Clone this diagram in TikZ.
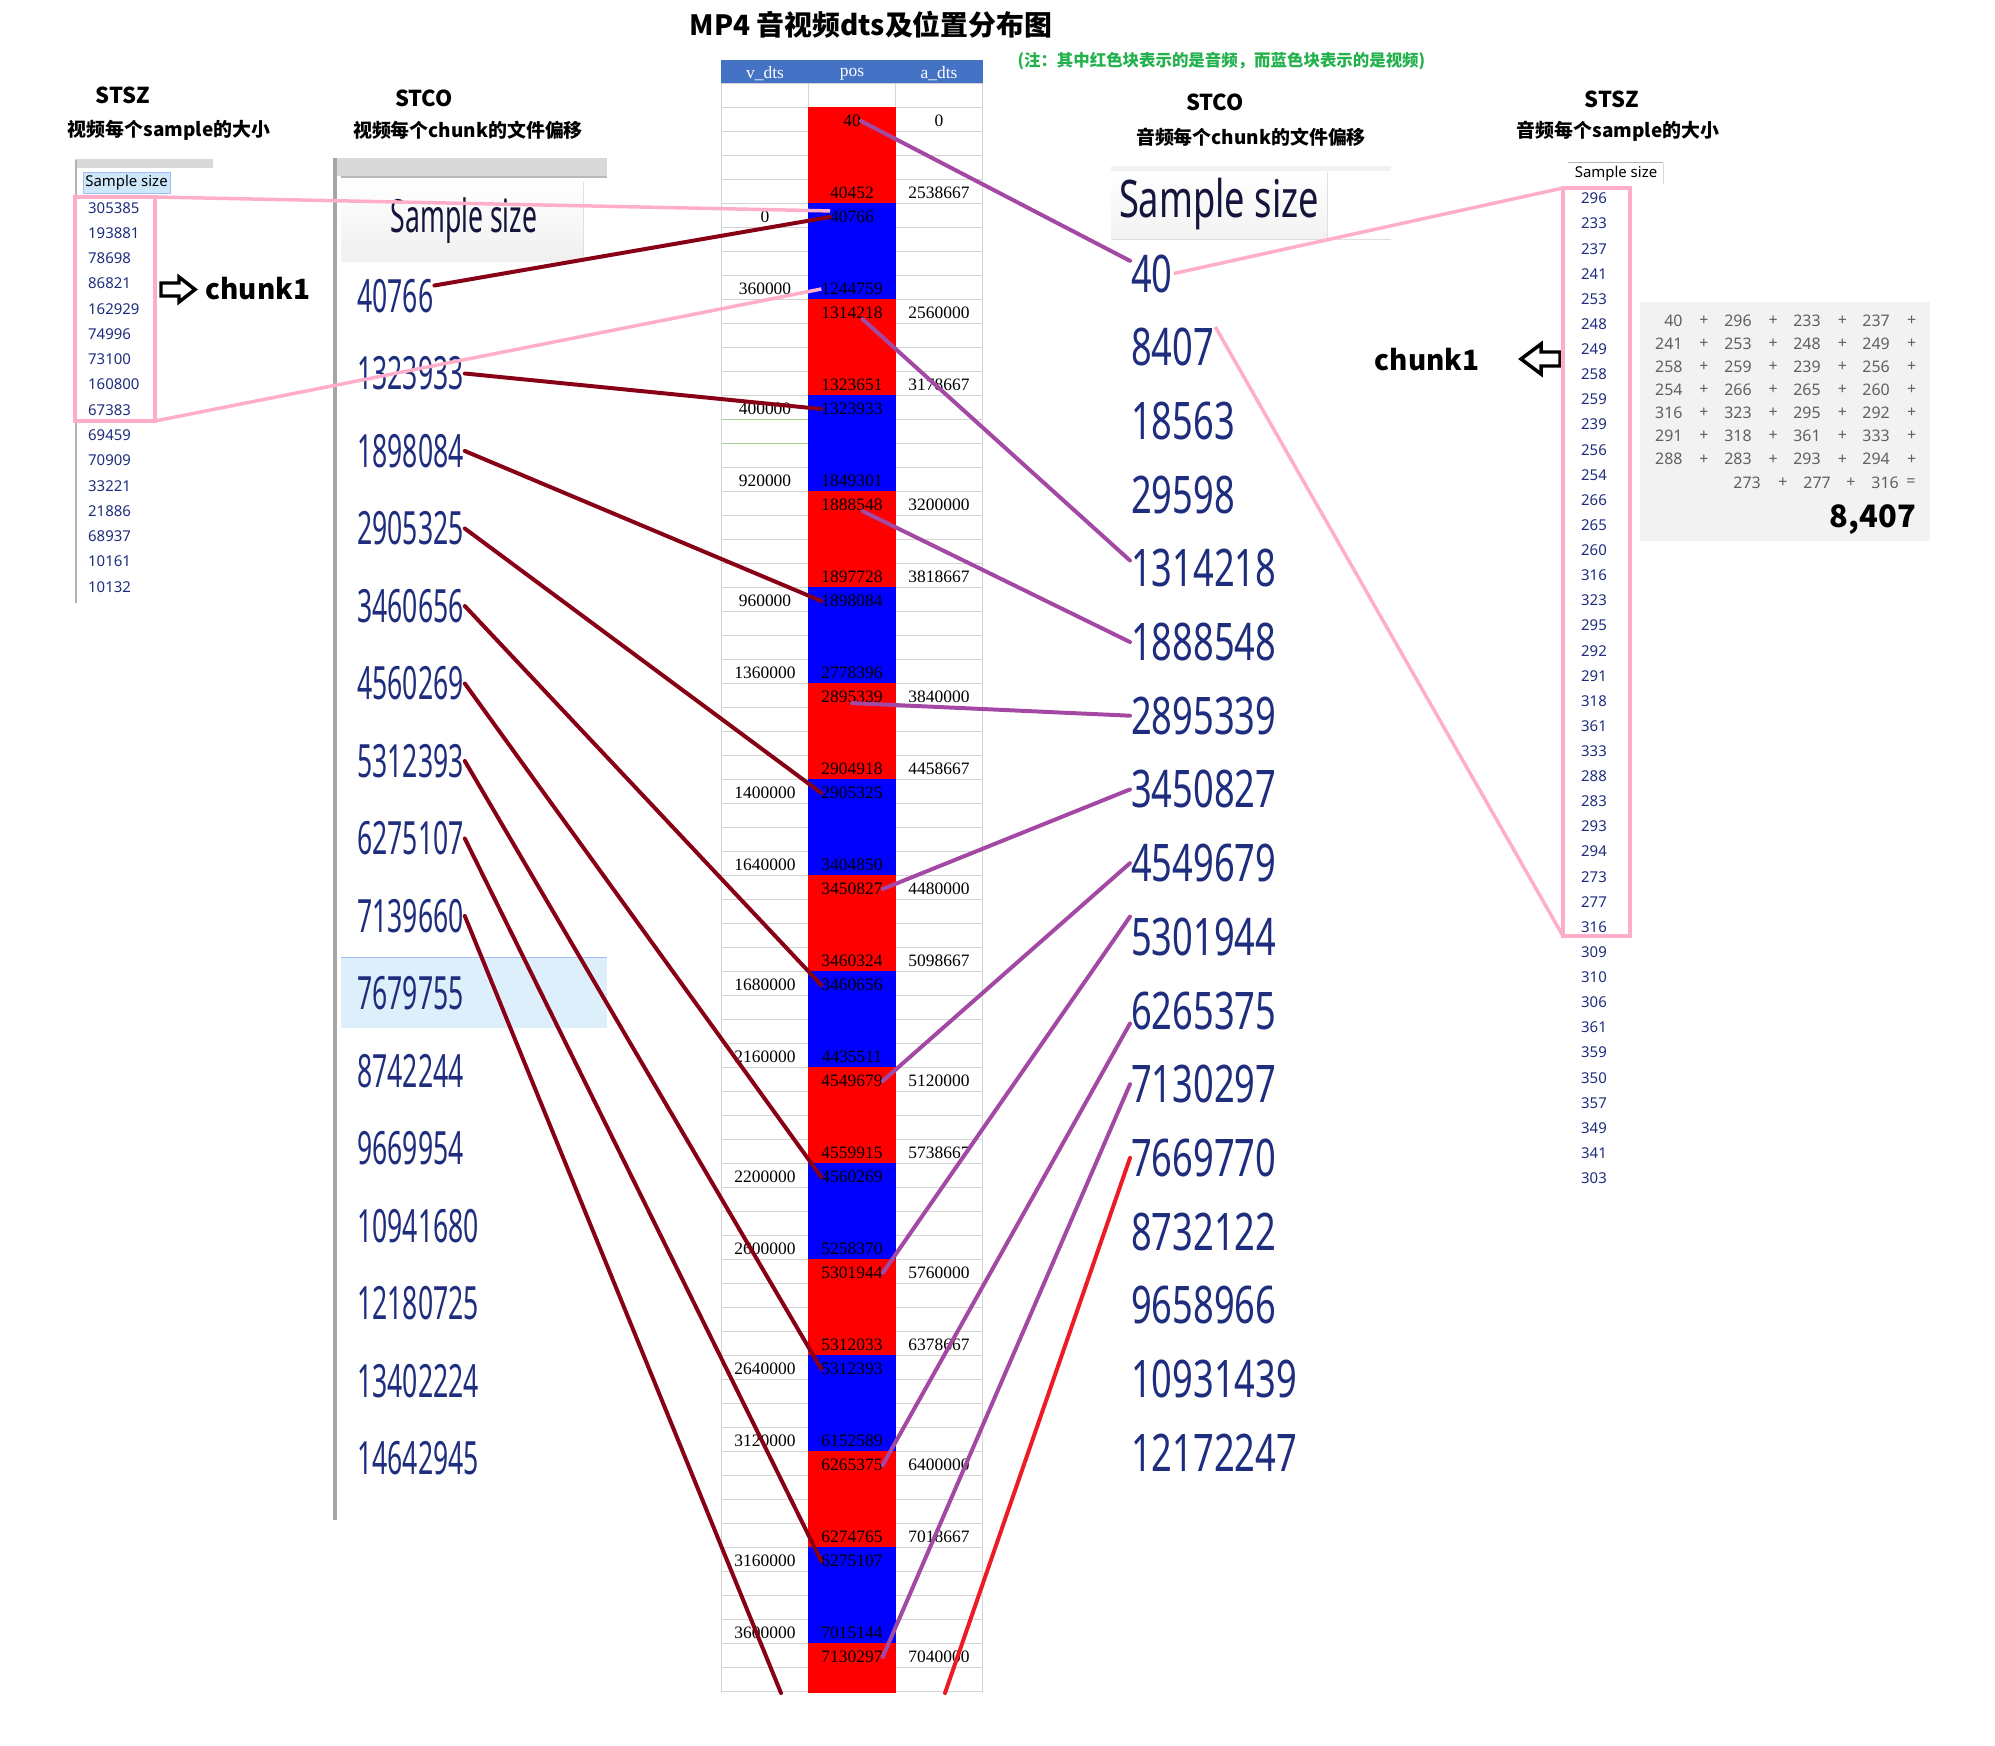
\documentclass[tikz,border=0pt]{standalone}
\usepackage{fontspec}
\usepackage{graphicx}
\setmainfont{Liberation Serif}
\newfontfamily\cjk{Noto Sans CJK SC}
\newfontfamily\uisans{Noto Sans}
\definecolor{pinkline}{RGB}{255,174,201}
\definecolor{purpline}{RGB}{163,73,164}
\definecolor{darkline}{RGB}{136,0,21}
\definecolor{redline}{RGB}{237,28,36}
\definecolor{notegreen}{RGB}{34,177,76}
\definecolor{navy}{RGB}{30,45,125}
\definecolor{gridgray}{RGB}{212,212,212}
\definecolor{gridgreen}{RGB}{169,208,142}
\definecolor{hdrblue}{RGB}{68,114,196}
\definecolor{sumgray}{RGB}{96,96,96}
\definecolor{selblue}{RGB}{205,232,250}
\newcommand{\lnum}[1]{\scalebox{0.58}[1]{#1}}
\newcommand{\rnum}[1]{\scalebox{0.7}[1]{#1}}
\begin{document}
\begin{tikzpicture}[x=1bp,y=-1bp,
  head/.style={font=\cjk\bfseries\fontsize{22}{24}\selectfont},
  subhead/.style={font=\cjk\bfseries\fontsize{19}{22}\selectfont},
  cell/.style={font=\fontsize{17.5}{18}\selectfont,inner sep=0},
  small/.style={font=\uisans\fontsize{15}{16}\selectfont,text=navy,inner sep=0},
  bigl/.style={font=\uisans\fontsize{46}{48}\selectfont,text=navy,inner sep=1,anchor=west},
  bigr/.style={font=\uisans\fontsize{52}{54}\selectfont,text=navy,inner sep=1,anchor=west},
  sumtxt/.style={font=\uisans\fontsize{16}{18}\selectfont,text=sumgray,inner sep=0},
  grid/.style={gridgray,line width=1},
  link/.style={line width=4,line cap=round},
  vlink/.style={link,darkline},
  alink/.style={link,purpline},
  plink/.style={line width=3.5,pinkline}]
\useasboundingbox (0,0) rectangle (1995,1746);
\path
	(871,25) node[font=\cjk\bfseries\fontsize{28}{30}\selectfont] (title) {MP4 音视频dts及位置分布图}
	(1014,61) node[anchor=west,text=notegreen,font=\cjk\bfseries\fontsize{16.5}{18}\selectfont] (note) {(注：其中红色块表示的是音频，而蓝色块表示的是视频)}
	(123,95) node[head] (lzhead) {STSZ}
	(169,130) node[subhead] (lzsub) {视频每个sample的大小}
	(424,98) node[head] (lchead) {STCO}
	(468,130) node[subhead] (lcsub) {视频每个chunk的文件偏移}
	(1215,102) node[head] (rchead) {STCO}
	(1251,137) node[subhead] (rcsub) {音频每个chunk的文件偏移}
	(1612,99) node[head] (rzhead) {STSZ}
	(1618,131) node[subhead] (rzsub) {音频每个sample的大小};
% left stsz
\fill[gray!30] (75,159) rectangle (213,168);
\draw[gray!60,line width=2] (76,160) -- (76,603);
\draw[selblue!80!blue,fill=selblue] (83,172) rectangle (170,193);
\node[small,text=black] (lzcap) at (126.5,182.5) {Sample size};
\foreach \n [count=\i from 0] in {305385,193881,78698,86821,162929,74996,73100,160800,67383,69459,70909,33221,21886,68937,10161,10132}
	\node[small,anchor=west] (lz\i) at (88,{207.7+25.27*\i}) {\n};
\draw[line width=3.5,line join=miter] (161,283) -- (179,283) -- (179,277) -- (195,289.5) -- (179,302) -- (179,296) -- (161,296) -- cycle;
\node[anchor=west,font=\cjk\bfseries\fontsize{28}{30}\selectfont] (lchunk) at (202,289) {chunk1};
% left stco
\fill[gray!30] (333,158) rectangle (607,176);
\draw[gray!55,line width=2] (341,177) -- (607,177);
\draw[gray!70,line width=3.5] (335,158) -- (335,1520);
\shade[top color=white,bottom color=gray!12] (341,182) rectangle (583,261);
\draw[gray!25] (583,182) -- (583,261);
\node[bigl,anchor=center,text={rgb,255:red,20;green,20;blue,60}] (lccap) at (464,221) {\lnum{Sample size}};
\fill[selblue!70] (341,957) rectangle (607,1028);
\draw[selblue!80!blue] (341,957) -- (607,957);
\foreach \n [count=\i from 0] in {40766,1323933,1898084,2905325,3460656,4560269,5312393,6275107,7139660,7679755,8742244,9669954,10941680,12180725,13402224,14642945}
	\node[bigl] (lc\i) at (356,{296+77.5*\i}) {\lnum{\n}};
% center table
\foreach \r in {0,...,67}
	\draw[grid] (721.7,{83+24*\r}) -- (982.3,{83+24*\r});
\foreach \x in {721.7,808.3,895.7,982.3}
	\draw[grid] (\x,83) -- (\x,1693);
\draw[gridgreen] (722,419.3) -- (808,419.3) (722,443.3) -- (808,443.3);
\foreach \b in {0,...,16}{
	\pgfmathsetmacro\ytop{107+96*\b}
	\pgfmathsetmacro\ybot{min(203+96*\b,1693)}
	\ifodd\b \def\bc{blue}\else \def\bc{red}\fi
	\fill[\bc] (808.3,\ytop) rectangle (895.7,\ybot);
}
\fill[hdrblue] (721,60) rectangle (982.5,83);
\path
	(765,74) node[cell,text=white] (hv) {v\_dts}
	(852,74) node[cell,text=white] (hp) {pos}
	(939,74) node[cell,text=white] (ha) {a\_dts};
\foreach \r/\v/\p/\a in {1//40/0,4//40452/2538667,5/0/40766/,8/360000/1244759/,9//1314218/2560000,12//1323651/3178667,13/400000/1323933/,16/920000/1849301/,17//1888548/3200000,20//1897728/3818667,21/960000/1898084/,24/1360000/2778396/,25//2895339/3840000,28//2904918/4458667,29/1400000/2905325/,32/1640000/3404850/,33//3450827/4480000,36//3460324/5098667,37/1680000/3460656/,40/2160000/4435511/,41//4549679/5120000,44//4559915/5738667,45/2200000/4560269/,48/2600000/5258370/,49//5301944/5760000,52//5312033/6378667,53/2640000/5312393/,56/3120000/6152589/,57//6265375/6400000,60//6274765/7018667,61/3160000/6275107/,64/3600000/7015144/,65//7130297/7040000}{
	\node[cell] (v\r) at (765,{97+24*\r}) {\v};
	\node[cell] (p\r) at (852,{97+24*\r}) {\p};
	\node[cell] (a\r) at (939,{97+24*\r}) {\a};
}
\coordinate (cut1) at (781,1693);
\coordinate (cut2) at (945,1693);
% right stco
\fill[gray!10] (1111,166) rectangle (1391,171);
\shade[top color=white,bottom color=gray!10] (1111,172) rectangle (1327,238);
\draw[gray!25] (1327,172) -- (1327,238) (1111,239) -- (1391,239);
\node[bigr,anchor=center,text={rgb,255:red,20;green,20;blue,60}] (rccap) at (1219,204) {\rnum{Sample size}};
\foreach \n [count=\i from 0] in {40,8407,18563,29598,1314218,1888548,2895339,3450827,4549679,5301944,6265375,7130297,7669770,8732122,9658966,10931439,12172247}
	\node[bigr] (rc\i) at (1130,{273.5+73.7*\i}) {\rnum{\n}};
\node[font=\cjk\bfseries\fontsize{28}{30}\selectfont] (rchunk) at (1427,360) {chunk1};
\draw[line width=3.5,line join=miter] (1521,359) -- (1541,344) -- (1541,352) -- (1560,352) -- (1560,366) -- (1541,366) -- (1541,374) -- cycle;
% right stsz
\draw[gray!60] (1568,162) -- (1663,162);
\draw[gray!30] (1663,163) -- (1663,184);
\node[small,text=black] (rzcap) at (1616,174) {Sample size};
\foreach \n [count=\i from 0] in {296,233,237,241,253,248,249,258,259,239,256,254,266,265,260,316,323,295,292,291,318,361,333,288,283,293,294,273,277,316,309,310,306,361,359,350,357,349,341,303}
	\node[small] (rz\i) at (1594,{198.5+25.12*\i}) {\n};
% sum
\fill[gray!10] (1640,302) rectangle (1930,541);
\foreach \row [count=\k from 0] in {{40,296,233,237},{241,253,248,249},{258,259,239,256},{254,266,265,260},{316,323,295,292},{291,318,361,333},{288,283,293,294}}
	\foreach \n [count=\c from 0] in \row {
		\node[sumtxt,anchor=east] (sum\k-\c) at ({1682.7+69.1*\c},{320.7+23.1*\k}) {\n};
		\node[sumtxt] (plus\k-\c) at ({1704+69.2*\c},{320.7+23.1*\k}) {+};
	}
\path
	(1761,482.7) node[sumtxt,anchor=east] (sum7-0) {273}
	(1783,482.7) node[sumtxt] (plus7-0) {+}
	(1831,482.7) node[sumtxt,anchor=east] (sum7-1) {277}
	(1851,482.7) node[sumtxt] (plus7-1) {+}
	(1899,482.7) node[sumtxt,anchor=east] (sum7-2) {316}
	(1911,482.7) node[sumtxt] (eq) {=}
	(1916,520) node[anchor=east,inner sep=0,font=\cjk\bfseries\fontsize{31}{33}\selectfont] (total) {8,407};
% links
\draw[vlink] (lc0.15) -- (p5.west);
\draw[vlink] (lc1.east) -- (p13.west);
\draw[vlink] (lc2.east) -- (p21.west);
\draw[vlink] (lc3.east) -- (p29.west);
\draw[vlink] (lc4.east) -- (p37.west);
\draw[vlink] (lc5.east) -- (p45.west);
\draw[vlink] (lc6.east) -- (p53.west);
\draw[vlink] (lc7.east) -- (p61.west);
\draw[vlink] (lc8.east) -- (cut1);
\draw[alink] (p1.east) -- (rc0.150);
\draw[alink] (p9.-30) -- (rc4.174);
\draw[alink] (p17.-30) -- (rc5.west);
\draw[alink] (p25.south) -- (rc6.west);
\draw[alink] (p33.east) -- (rc7.west);
\draw[alink] (p41.east) -- (rc8.west);
\draw[alink] (p49.east) -- (rc9.north west);
\draw[alink] (p57.east) -- (rc10.190);
\draw[alink] (p65.east) -- (rc11.west);
\draw[link,redline] (cut2) -- (rc12.west);
\coordinate (lbox1) at (75,197);
\coordinate (lbox2) at (155,421);
\draw[plink] (lbox1) rectangle (lbox2);
\draw[plink] (lbox1 -| lbox2) -- (p5.north west);
\draw[plink] (lbox2) -- (p8.west);
\coordinate (rbox1) at (1563,188);
\coordinate (rbox2) at (1630,936);
\draw[plink] (rbox1) rectangle (rbox2);
\draw[plink] (rbox1) -- (rc0.east);
\draw[plink] (rbox1 |- rbox2) -- (rc1.north east);
\end{tikzpicture}
\end{document}
